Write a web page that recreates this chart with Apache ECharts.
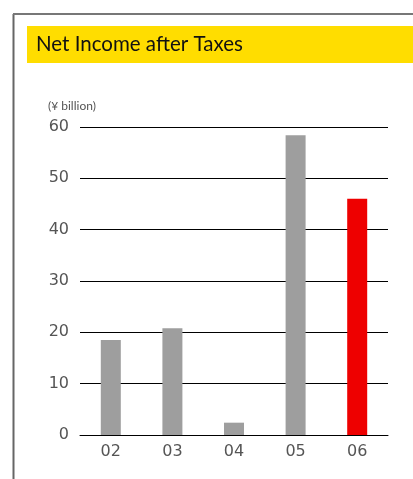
<!DOCTYPE html>
<html>
<head>
<meta charset="utf-8">
<script src="https://cdn.jsdelivr.net/npm/echarts@6/dist/echarts.min.js"></script>
<style>html,body{margin:0;padding:0;background:#fff;}#c{width:413px;height:479px;}</style>
</head>
<body>
<div id="c"></div>
<script>
const titleText = "Net Income after Taxes";
const unitText = "(¥ billion)";
const categories = ["02", "03", "04", "05", "06"];
const values = [18.5, 20.8, 2.4, 58.4, 46.0];
const highlightIndex = 4;
const yTicks = { min: 0, max: 60, interval: 10 };

const chart = echarts.init(document.getElementById('c'), null, { renderer: 'canvas' });
chart.setOption({
  animation: false,
  backgroundColor: '#fff',
  graphic: [
    { type: 'line', shape: { x1: 13.5, y1: 14, x2: 13.5, y2: 479 }, style: { stroke: '#666', lineWidth: 2 } },
    { type: 'line', shape: { x1: 13, y1: 14, x2: 413, y2: 14 }, style: { stroke: '#777', lineWidth: 2 } },
    { type: 'rect', shape: { x: 27, y: 26, width: 386, height: 37 }, style: { fill: '#FFDD00' } },
    { type: 'text', left: 36, top: 34, style: { text: titleText, font: '20.5px Lato', fill: '#111' } },
    { type: 'text', left: 48, top: 100, style: { text: unitText, font: '12px Lato', fill: '#555' } }
  ],
  grid: { left: 80, right: 25, top: 127, bottom: 44 },
  xAxis: {
    type: 'category',
    data: categories,
    axisLine: { show: true, lineStyle: { color: '#000', width: 1 } },
    axisTick: { show: false },
    axisLabel: { color: '#555', fontSize: 16, fontFamily: 'DejaVu Sans', margin: 9 }
  },
  yAxis: {
    type: 'value',
    min: yTicks.min, max: yTicks.max, interval: yTicks.interval,
    axisLine: { show: false },
    axisTick: { show: false },
    axisLabel: { color: '#555', fontSize: 16, fontFamily: 'DejaVu Sans', margin: 11 },
    splitLine: { show: true, lineStyle: { color: '#000', width: 1 } }
  },
  series: [{
    type: 'bar',
    data: values.map((v, i) => ({ value: v, itemStyle: { color: i === highlightIndex ? '#EE0000' : '#9E9E9E' } })),
    barWidth: 20
  }]
});
</script>
</body>
</html>
